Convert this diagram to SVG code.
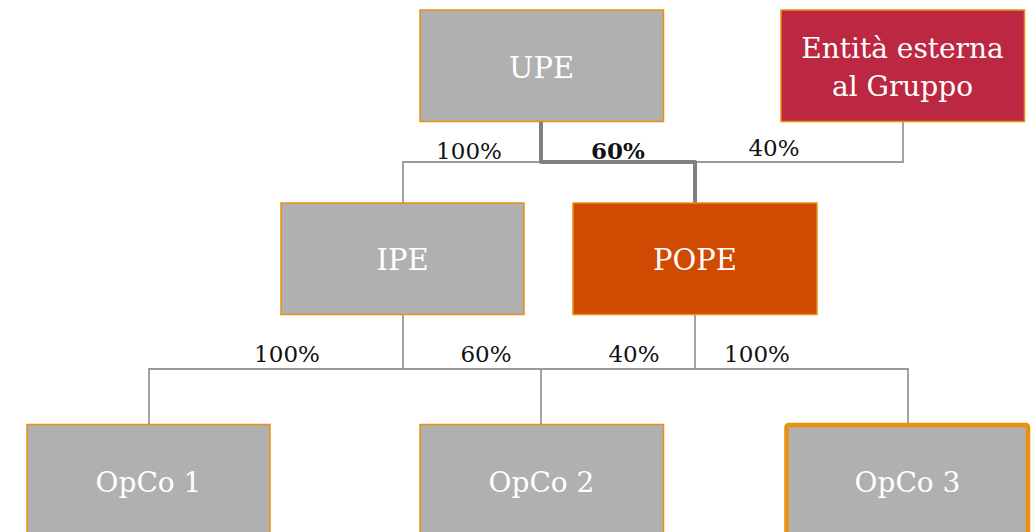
<svg xmlns="http://www.w3.org/2000/svg" width="1033" height="532" viewBox="0 0 1033 532">
<style>
.box{stroke:#E8900F;stroke-width:1.5}
.grey{fill:#B0B0B0}
.lbl{font-family:"DejaVu Serif","Liberation Serif",serif;fill:#fff;font-size:29px;text-anchor:middle}
.sm{font-size:28px}
.pct{font-family:"DejaVu Serif","Liberation Serif",serif;fill:#111;font-size:23px;text-anchor:middle}
.thin{fill:none;stroke:#999;stroke-width:1.8}
.thick{fill:none;stroke:#808080;stroke-width:4;stroke-linejoin:round}
</style>
<rect width="1033" height="532" fill="#fff"/>
<g id="connectors">
<path class="thin" d="M403,203V162H903V121"/>
<path class="thin" d="M403,314V369M149,424V369H908V424M541,369V424M695,314V369"/>
<path class="thick" d="M541,121V162H695V203"/>
</g>
<g id="labels">
<text class="pct" x="469" y="159">100%</text>
<text class="pct" x="618" y="159" font-weight="bold">60%</text>
<text class="pct" x="774" y="156">40%</text>
<text class="pct" x="287" y="362">100%</text>
<text class="pct" x="486" y="362">60%</text>
<text class="pct" x="634" y="362">40%</text>
<text class="pct" x="757" y="362">100%</text>
</g>
<g id="UPE">
<rect class="box grey" x="420" y="10" width="243.5" height="111.5"/>
<text class="lbl" x="541.5" y="78">UPE</text>
</g>
<g id="Entita">
<rect class="box" fill="#BC2841" x="781" y="10" width="243.5" height="111.5"/>
<text class="lbl sm" x="902.5" y="58">Entità esterna</text>
<text class="lbl sm" x="902.5" y="96">al Gruppo</text>
</g>
<g id="IPE">
<rect class="box grey" x="281" y="203" width="243" height="111.5"/>
<text class="lbl" x="402.5" y="270">IPE</text>
</g>
<g id="POPE">
<rect class="box" fill="#D04A02" x="573" y="203" width="244" height="111.5"/>
<text class="lbl" x="695" y="270">POPE</text>
</g>
<g id="OpCo1">
<rect class="box grey" x="27" y="424.5" width="243" height="120"/>
<text class="lbl sm" x="148.5" y="492">OpCo 1</text>
</g>
<g id="OpCo2">
<rect class="box grey" x="420" y="424.5" width="243.5" height="120"/>
<text class="lbl sm" x="541.5" y="492">OpCo 2</text>
</g>
<g id="OpCo3">
<rect class="grey" x="786.5" y="425" width="241.5" height="120" rx="2" stroke="#E8900F" stroke-width="4.5"/>
<text class="lbl sm" x="907.5" y="492">OpCo 3</text>
</g>
</svg>
